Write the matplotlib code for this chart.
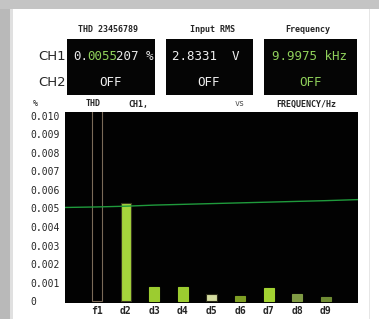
import matplotlib
matplotlib.use("Agg")
import matplotlib.pyplot as plt
from matplotlib.patches import Rectangle

# ---- data ----
harmonics = ["f1", "d2", "d3", "d4", "d5", "d6", "d7", "d8", "d9"]
thd_pct = [1.0, 0.0053, 0.00075, 0.00075, 0.0004, 0.0003, 0.0007, 0.0004, 0.0002]
bar_colors = ["#000000", "#a6d63c", "#9ccc30", "#9ccc30", "#d4dca0",
              "#7e9e24", "#a2d232", "#7f9a44", "#6f8c34"]
bar_edges = ["#7a6a58", "#3a3a20", "#9ccc30", "#9ccc30", "#2a2a18",
             "#7e9e24", "#a2d232", "#7f9a44", "#6f8c34"]
trend_pos = [-1.2, 0, 1, 2, 3, 4, 5, 6, 7, 8, 9.2]
trend_vals = [0.00505, 0.00508, 0.00512, 0.00518, 0.00522, 0.00526,
              0.0053, 0.00534, 0.00538, 0.00542, 0.00548]
yticks = [0, 0.001, 0.002, 0.003, 0.004, 0.005, 0.006, 0.007, 0.008, 0.009, 0.010]
ytick_labels = ["0", "0.001", "0.002", "0.003", "0.004", "0.005", "0.006",
                "0.007", "0.008", "0.009", "0.010"]

W, H = 379, 319
fig = plt.figure(figsize=(W / 100, H / 100), dpi=100)
fig.patch.set_facecolor("white")

# ---- overlay (panel/frame) in pixel coords ----
bg = fig.add_axes([0, 0, 1, 1])
bg.set_xlim(0, W)
bg.set_ylim(H, 0)
bg.axis("off")
bg.add_patch(Rectangle((0, 0), 10, H, color="#b9b9b9", lw=0))
bg.add_patch(Rectangle((0, 0), W, 9, color="#c4c4c4", lw=0))
bg.add_patch(Rectangle((10, 9), 3, H, color="#e0e0e0", lw=0))
bg.add_patch(Rectangle((369, 9), 1, H, color="#e6e6e6", lw=0))

mono = "DejaVu Sans Mono"
dark = "#262626"
# header labels
bg.text(108, 30, "THD 23456789", ha="center", va="center", fontsize=6,
        family=mono, weight="bold", color=dark)
bg.text(213, 30, "Input RMS", ha="center", va="center", fontsize=6,
        family=mono, weight="bold", color=dark)
bg.text(308, 30, "Frequency", ha="center", va="center", fontsize=6,
        family=mono, weight="bold", color=dark)
bg.text(52, 56, "CH1", ha="center", va="center", fontsize=9.5,
        family="DejaVu Sans", color=dark)
bg.text(52, 82, "CH2", ha="center", va="center", fontsize=9.5,
        family="DejaVu Sans", color=dark)

boxes = [(67, 155), (166, 253), (264, 357)]
for x0, x1 in boxes:
    bg.add_patch(Rectangle((x0, 39), x1 - x0, 56, color="#050505", lw=0))

green = "#8fd05a"
fs = 9
bg.text(73, 57, "0.", ha="left", va="center", fontsize=fs, family=mono, color="#e8e8e8")
bg.text(87, 57, "0055", ha="left", va="center", fontsize=fs, family=mono, color=green)
bg.text(116, 57, "207 %", ha="left", va="center", fontsize=fs, family=mono, color="#e8e8e8")
bg.text(172, 57, "2.8331  V", ha="left", va="center", fontsize=fs, family=mono, color="#f0f0f0")
bg.text(310, 57, "9.9975 kHz", ha="center", va="center", fontsize=fs, family=mono, color=green)
bg.text(111, 83, "OFF", ha="center", va="center", fontsize=fs, family=mono, color="#f0f0f0")
bg.text(209, 83, "OFF", ha="center", va="center", fontsize=fs, family=mono, color="#f0f0f0")
bg.text(310, 83, "OFF", ha="center", va="center", fontsize=fs, family=mono, color=green)

# plot header
bg.text(33, 103, "%", ha="left", va="center", fontsize=6, family=mono, color=dark)
bg.text(93, 104, "THD", ha="center", va="center", fontsize=6, family=mono, weight="bold", color=dark)
bg.text(138, 104, "CH1,", ha="center", va="center", fontsize=6, family=mono, weight="bold", color=dark)
bg.text(240, 104, "vs", ha="center", va="center", fontsize=6, family=mono, color="#555555")
bg.text(306, 104, "FREQUENCY/Hz", ha="center", va="center", fontsize=6, family=mono, weight="bold", color=dark)

# ---- main chart ----
ax = fig.add_axes([65 / W, 16 / H, 293 / W, 191 / H])
ax.set_facecolor("#020202")
x = list(range(len(harmonics)))
ax.bar(x, thd_pct, width=0.36, color=bar_colors, edgecolor=bar_edges, linewidth=0.8, zorder=2)
ax.plot(trend_pos, trend_vals, color="#1f9a3c", lw=1.0, zorder=3)
ax.set_xlim(-1.12, 9.12)
ax.set_ylim(-0.0001, 0.0102)
ax.set_xticks(x)
ax.set_xticklabels(harmonics, family=mono, fontsize=7, weight="bold", color=dark)
ax.set_yticks(yticks)
ax.set_yticklabels(ytick_labels, family=mono, fontsize=7, color=dark)
for lbl in ax.get_yticklabels():
    lbl.set_horizontalalignment("left")
ax.tick_params(axis="y", length=0, pad=25)
ax.tick_params(axis="x", length=0, pad=2)
for s in ax.spines.values():
    s.set_visible(False)

fig.savefig("out.png", dpi=100, facecolor=fig.get_facecolor())
